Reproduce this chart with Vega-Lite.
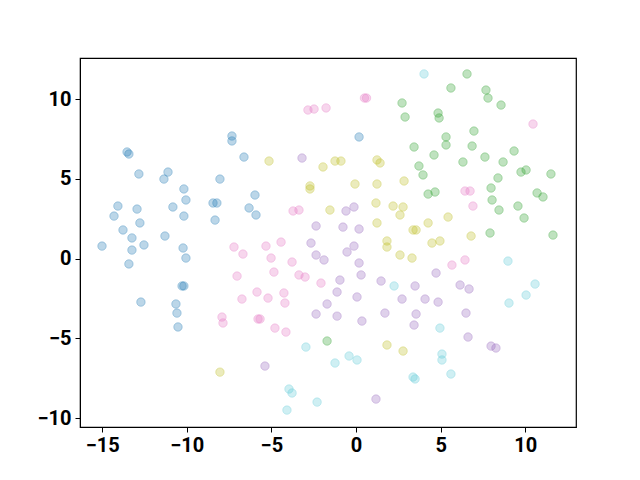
{
  "$schema": "https://vega.github.io/schema/vega-lite/v6.json",
  "width": 496,
  "height": 369,
  "autosize": {"type": "none"},
  "padding": {"left": 80, "top": 58, "right": 64, "bottom": 53},
  "background": "white",
  "config": {"view": {"stroke": "black", "strokeWidth": 1.2}},
  "data": {"values": [
    {"x":-13.53,"y":6.68,"g":"a"},{"x":-13.42,"y":6.55,"g":"a"},{"x":-12.83,"y":5.30,"g":"a"},{"x":-11.11,"y":5.42,"g":"a"},{"x":-11.35,"y":4.98,"g":"a"},{"x":-10.17,"y":4.36,"g":"a"},{"x":-10.05,"y":3.67,"g":"a"},{"x":-14.07,"y":3.29,"g":"a"},{"x":-12.94,"y":3.10,"g":"a"},{"x":-14.30,"y":2.66,"g":"a"},{"x":-10.82,"y":3.23,"g":"a"},{"x":-10.17,"y":2.66,"g":"a"},{"x":-12.77,"y":2.23,"g":"a"},{"x":-13.77,"y":1.79,"g":"a"},{"x":-13.24,"y":1.29,"g":"a"},{"x":-11.29,"y":1.41,"g":"a"},{"x":-15.01,"y":0.78,"g":"a"},{"x":-12.53,"y":0.85,"g":"a"},{"x":-13.24,"y":0.53,"g":"a"},{"x":-10.22,"y":0.66,"g":"a"},{"x":-10.05,"y":0.03,"g":"a"},{"x":-13.42,"y":-0.34,"g":"a"},{"x":-10.17,"y":-1.72,"g":"a"},{"x":-10.28,"y":-1.72,"g":"a"},{"x":-12.71,"y":-2.73,"g":"a"},{"x":-10.64,"y":-2.85,"g":"a"},{"x":-10.58,"y":-3.42,"g":"a"},{"x":-10.52,"y":-4.29,"g":"a"},{"x":-7.33,"y":7.68,"g":"a"},{"x":-7.33,"y":7.37,"g":"a"},{"x":-6.62,"y":6.36,"g":"a"},{"x":-8.04,"y":4.98,"g":"a"},{"x":-8.45,"y":3.48,"g":"a"},{"x":-8.22,"y":3.48,"g":"a"},{"x":-5.97,"y":3.98,"g":"a"},{"x":-6.32,"y":3.17,"g":"a"},{"x":-5.91,"y":2.73,"g":"a"},{"x":-8.33,"y":2.41,"g":"a"},{"x":0.18,"y":7.62,"g":"a"},
    {"x":-2.84,"y":9.31,"g":"b"},{"x":-2.48,"y":9.37,"g":"b"},{"x":-1.77,"y":9.44,"g":"b"},{"x":0.50,"y":10.06,"g":"b"},{"x":0.62,"y":10.06,"g":"b"},{"x":10.46,"y":8.43,"g":"b"},{"x":-3.72,"y":2.98,"g":"b"},{"x":-3.37,"y":3.04,"g":"b"},{"x":-7.21,"y":0.72,"g":"b"},{"x":-6.68,"y":0.28,"g":"b"},{"x":-5.32,"y":0.78,"g":"b"},{"x":-4.43,"y":1.03,"g":"b"},{"x":-5.02,"y":0.03,"g":"b"},{"x":-3.78,"y":-0.22,"g":"b"},{"x":-4.85,"y":-0.85,"g":"b"},{"x":-7.03,"y":-1.10,"g":"b"},{"x":-3.37,"y":-1.03,"g":"b"},{"x":-3.01,"y":-1.16,"g":"b"},{"x":-2.07,"y":-1.54,"g":"b"},{"x":-5.85,"y":-2.10,"g":"b"},{"x":-4.26,"y":-2.16,"g":"b"},{"x":-6.74,"y":-2.54,"g":"b"},{"x":-5.20,"y":-2.48,"g":"b"},{"x":-4.20,"y":-2.79,"g":"b"},{"x":-7.92,"y":-3.67,"g":"b"},{"x":-7.86,"y":-4.04,"g":"b"},{"x":-5.79,"y":-3.79,"g":"b"},{"x":-5.67,"y":-3.79,"g":"b"},{"x":-4.79,"y":-4.36,"g":"b"},{"x":-4.14,"y":-4.61,"g":"b"},{"x":5.67,"y":-0.41,"g":"b"},{"x":6.44,"y":4.23,"g":"b"},{"x":6.74,"y":4.23,"g":"b"},{"x":6.91,"y":3.29,"g":"b"},{"x":6.44,"y":-0.09,"g":"b"},
    {"x":-5.14,"y":6.11,"g":"c"},{"x":-1.95,"y":5.74,"g":"c"},{"x":-1.24,"y":6.11,"g":"c"},{"x":-0.89,"y":6.11,"g":"c"},{"x":1.24,"y":6.18,"g":"c"},{"x":1.42,"y":5.99,"g":"c"},{"x":-0.06,"y":4.67,"g":"c"},{"x":1.24,"y":4.67,"g":"c"},{"x":2.84,"y":4.86,"g":"c"},{"x":-2.72,"y":4.55,"g":"c"},{"x":-2.72,"y":4.36,"g":"c"},{"x":-1.54,"y":3.04,"g":"c"},{"x":1.18,"y":3.48,"g":"c"},{"x":2.19,"y":3.29,"g":"c"},{"x":2.78,"y":3.23,"g":"c"},{"x":2.60,"y":2.73,"g":"c"},{"x":1.24,"y":2.23,"g":"c"},{"x":5.44,"y":2.60,"g":"c"},{"x":4.26,"y":2.23,"g":"c"},{"x":3.37,"y":1.79,"g":"c"},{"x":3.55,"y":1.79,"g":"c"},{"x":1.83,"y":1.10,"g":"c"},{"x":1.83,"y":0.72,"g":"c"},{"x":4.49,"y":0.97,"g":"c"},{"x":4.96,"y":1.10,"g":"c"},{"x":2.60,"y":0.22,"g":"c"},{"x":3.31,"y":0.03,"g":"c"},{"x":6.80,"y":1.41,"g":"c"},{"x":-8.04,"y":-7.12,"g":"c"},{"x":1.83,"y":-5.42,"g":"c"},{"x":2.78,"y":-5.80,"g":"c"},
    {"x":-3.19,"y":6.30,"g":"d"},{"x":-2.36,"y":2.04,"g":"d"},{"x":-2.66,"y":0.97,"g":"d"},{"x":-2.36,"y":0.22,"g":"d"},{"x":-1.89,"y":-0.09,"g":"d"},{"x":-1.71,"y":-2.85,"g":"d"},{"x":-0.59,"y":2.98,"g":"d"},{"x":-0.12,"y":3.23,"g":"d"},{"x":-0.77,"y":1.97,"g":"d"},{"x":0.18,"y":1.85,"g":"d"},{"x":-0.12,"y":0.78,"g":"d"},{"x":-0.53,"y":0.41,"g":"d"},{"x":0.18,"y":-0.28,"g":"d"},{"x":0.30,"y":-1.03,"g":"d"},{"x":-0.95,"y":-1.35,"g":"d"},{"x":1.48,"y":-1.41,"g":"d"},{"x":-1.12,"y":-2.10,"g":"d"},{"x":0.06,"y":-2.41,"g":"d"},{"x":3.49,"y":-1.72,"g":"d"},{"x":4.73,"y":-0.91,"g":"d"},{"x":2.72,"y":-2.54,"g":"d"},{"x":4.08,"y":-2.54,"g":"d"},{"x":4.85,"y":-2.73,"g":"d"},{"x":6.15,"y":-1.66,"g":"d"},{"x":6.68,"y":-1.91,"g":"d"},{"x":-1.12,"y":-3.61,"g":"d"},{"x":0.35,"y":-3.92,"g":"d"},{"x":1.71,"y":-3.42,"g":"d"},{"x":3.55,"y":-3.48,"g":"d"},{"x":3.43,"y":-4.17,"g":"d"},{"x":1.18,"y":-8.81,"g":"d"},{"x":-2.36,"y":-3.48,"g":"d"},{"x":-5.38,"y":-6.74,"g":"d"},{"x":6.50,"y":-3.42,"g":"d"},{"x":6.62,"y":-4.92,"g":"d"},{"x":7.98,"y":-5.49,"g":"d"},{"x":8.27,"y":-5.61,"g":"d"},
    {"x":4.02,"y":11.57,"g":"e"},{"x":2.25,"y":-1.72,"g":"e"},{"x":8.98,"y":-0.16,"g":"e"},{"x":10.58,"y":-1.60,"g":"e"},{"x":10.05,"y":-2.29,"g":"e"},{"x":9.04,"y":-2.79,"g":"e"},{"x":4.96,"y":-4.36,"g":"e"},{"x":-1.24,"y":-6.55,"g":"e"},{"x":-0.41,"y":-6.11,"g":"e"},{"x":0.06,"y":-6.36,"g":"e"},{"x":5.08,"y":-5.99,"g":"e"},{"x":5.08,"y":-6.36,"g":"e"},{"x":5.61,"y":-7.24,"g":"e"},{"x":3.37,"y":-7.43,"g":"e"},{"x":3.49,"y":-7.55,"g":"e"},{"x":-2.96,"y":-5.55,"g":"e"},{"x":-3.96,"y":-8.18,"g":"e"},{"x":-3.78,"y":-8.43,"g":"e"},{"x":-2.30,"y":-9.00,"g":"e"},{"x":-4.08,"y":-9.50,"g":"e"},
    {"x":5.61,"y":10.69,"g":"f"},{"x":2.72,"y":9.75,"g":"f"},{"x":2.90,"y":8.87,"g":"f"},{"x":4.85,"y":9.12,"g":"f"},{"x":4.91,"y":8.81,"g":"f"},{"x":5.32,"y":7.62,"g":"f"},{"x":5.32,"y":7.12,"g":"f"},{"x":3.43,"y":6.99,"g":"f"},{"x":4.61,"y":6.49,"g":"f"},{"x":3.72,"y":5.80,"g":"f"},{"x":3.96,"y":5.24,"g":"f"},{"x":6.56,"y":11.57,"g":"f"},{"x":7.68,"y":10.56,"g":"f"},{"x":7.80,"y":10.06,"g":"f"},{"x":8.57,"y":9.62,"g":"f"},{"x":6.97,"y":7.99,"g":"f"},{"x":6.86,"y":7.05,"g":"f"},{"x":9.34,"y":6.74,"g":"f"},{"x":7.62,"y":6.36,"g":"f"},{"x":6.32,"y":6.05,"g":"f"},{"x":8.69,"y":6.05,"g":"f"},{"x":9.75,"y":5.42,"g":"f"},{"x":10.05,"y":5.55,"g":"f"},{"x":11.52,"y":5.30,"g":"f"},{"x":8.39,"y":5.05,"g":"f"},{"x":4.26,"y":4.04,"g":"f"},{"x":4.67,"y":4.17,"g":"f"},{"x":7.98,"y":4.42,"g":"f"},{"x":8.04,"y":3.67,"g":"f"},{"x":8.45,"y":3.04,"g":"f"},{"x":10.70,"y":4.11,"g":"f"},{"x":11.05,"y":3.86,"g":"f"},{"x":9.57,"y":3.29,"g":"f"},{"x":9.93,"y":2.54,"g":"f"},{"x":7.92,"y":1.60,"g":"f"},{"x":11.64,"y":1.47,"g":"f"},{"x":-1.71,"y":-5.17,"g":"f"}
  ]},
  "mark": {"type": "point", "shape": "circle", "filled": true, "size": 72, "fillOpacity": 0.3, "strokeOpacity": 0.3, "strokeWidth": 1, "stroke": {"expr": "scale('color', datum.g)"}},
  "encoding": {
    "x": {"field": "x", "type": "quantitative", "scale": {"domain": [-16.31, 13.0], "nice": false, "zero": false},
      "axis": {"values": [-15, -10, -5, 0, 5, 10], "title": null, "grid": false, "domainColor": "black", "tickColor": "black", "tickSize": 5, "labelFont": "Roboto", "labelFontSize": 20, "labelFontWeight": "bold", "labelColor": "black", "labelPadding": 3}},
    "y": {"field": "y", "type": "quantitative", "scale": {"domain": [-10.56, 12.57], "nice": false, "zero": false},
      "axis": {"values": [-10, -5, 0, 5, 10], "title": null, "grid": false, "domainColor": "black", "tickColor": "black", "tickSize": 5, "labelFont": "Roboto", "labelFontSize": 20, "labelFontWeight": "bold", "labelColor": "black", "labelPadding": 4}},
    "color": {"field": "g", "type": "nominal", "legend": null,
      "scale": {"domain": ["a", "b", "c", "d", "e", "f"], "range": ["#1f77b4", "#e377c2", "#bcbd22", "#9467bd", "#5fcbd8", "#2ca02c"]}}
  }
}
